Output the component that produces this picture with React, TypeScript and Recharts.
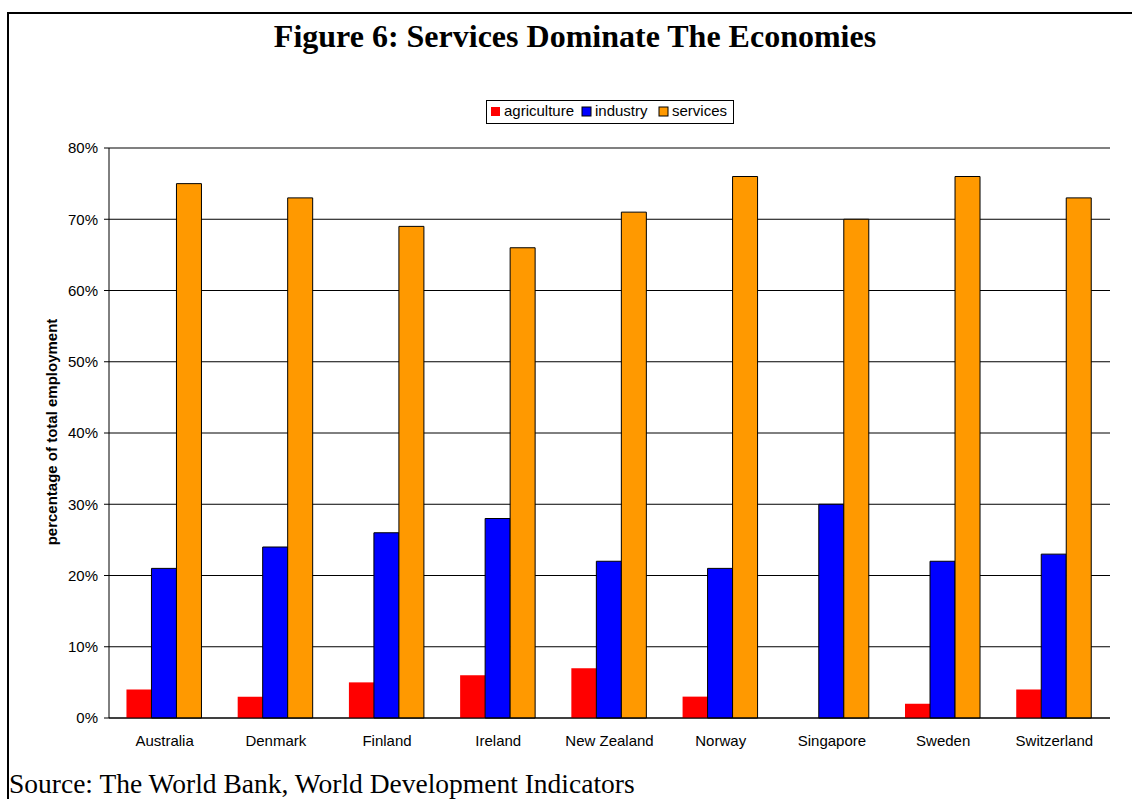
import { BarChart, Bar, XAxis, YAxis, CartesianGrid, ReferenceLine } from 'recharts'

const countries = ['Australia', 'Denmark', 'Finland', 'Ireland', 'New Zealand', 'Norway', 'Singapore', 'Sweden', 'Switzerland']
const agriculture = [4, 3, 5, 6, 7, 3, 0, 2, 4]
const industry = [21, 24, 26, 28, 22, 21, 30, 22, 23]
const services = [75, 73, 69, 66, 71, 76, 70, 76, 73]
const yTicks = [0, 10, 20, 30, 40, 50, 60, 70, 80]
const edgeTicks = [0, 1, 2, 3, 4, 5, 6, 7, 8, 9]

const SERIES = [
  { key: 'agriculture', fill: '#ff0000', stroke: 'none' },
  { key: 'industry', fill: '#0000ff', stroke: '#000' },
  { key: 'services', fill: '#ff9900', stroke: '#000' },
]

const data = countries.map((name, i) => ({
  name,
  agriculture: agriculture[i],
  industry: industry[i],
  services: services[i],
}))

const SANS = 'Arial, "Liberation Sans", sans-serif'
const SERIF = '"Times New Roman", "Liberation Serif", serif'

// legend swatch / label x positions
const legendX = [491, 582, 659]

export default function App() {
  return (
    <div style={{ position: 'absolute', left: 0, top: 0, width: 1132, height: 799, background: '#fff' }}>
      <BarChart
        width={1132}
        height={799}
        data={data}
        margin={{ top: 148, right: 22, bottom: 51, left: 49 }}
        barCategoryGap="15.7%"
        barGap={0}
      >
        <CartesianGrid vertical={false} stroke="#000" />
        {/* category labels, stacked under the edge-tick axis */}
        <XAxis
          xAxisId="z_cat"
          dataKey="name"
          axisLine={false}
          tickLine={false}
          tickMargin={10}
          height={29}
          tick={{ fill: '#000', fontSize: 15, fontFamily: SANS }}
        />
        {/* axis line + tick marks between categories */}
        <XAxis
          xAxisId="a_edges"
          type="number"
          domain={[0, 9]}
          ticks={edgeTicks}
          tick={false}
          tickSize={5}
          height={1}
          stroke="#000"
        />
        <YAxis
          domain={[0, 80]}
          ticks={yTicks}
          tickFormatter={(v) => `${v}%`}
          width={60}
          tickSize={5}
          tickMargin={6}
          stroke="#000"
          tick={{ fill: '#000', fontSize: 15, fontFamily: SANS }}
        />
        <ReferenceLine y={80} xAxisId="a_edges" stroke="#808080" strokeWidth={1.5} />
        <ReferenceLine x={9} xAxisId="a_edges" stroke="#808080" strokeWidth={1.5} />
        {SERIES.map((s) => (
          <Bar
            key={s.key}
            xAxisId="z_cat"
            dataKey={s.key}
            fill={s.fill}
            stroke={s.stroke}
            strokeWidth={1}
            isAnimationActive={false}
          />
        ))}
      </BarChart>

      <svg
        width={1132}
        height={799}
        style={{ position: 'absolute', left: 0, top: 0, pointerEvents: 'none' }}
      >
        <rect x={7} y={12} width={1125} height={2} fill="#000" />
        <rect x={7} y={12} width={2} height={787} fill="#000" />
        <text x={575} y={47} textAnchor="middle" fontFamily={SERIF} fontWeight="bold" fontSize={32}>
          Figure 6: Services Dominate The Economies
        </text>
        <rect x={486.5} y={100.5} width={247} height={23} fill="#fff" stroke="#000" />
        {SERIES.map((s, i) => (
          <g key={s.key}>
            <rect
              x={legendX[i]}
              y={107}
              width={9}
              height={9}
              fill={s.fill}
              stroke={s.stroke}
            />
            <text x={legendX[i] + 13} y={116} fontFamily={SANS} fontSize={15}>
              {s.key}
            </text>
          </g>
        ))}
        <text
          transform="translate(57, 432) rotate(-90)"
          textAnchor="middle"
          fontFamily={SANS}
          fontWeight="bold"
          fontSize={15}
        >
          percentage of total employment
        </text>
        <text x={9} y={793} fontFamily={SERIF} fontSize={27.5}>
          Source: The World Bank, World Development Indicators
        </text>
      </svg>
    </div>
  )
}
